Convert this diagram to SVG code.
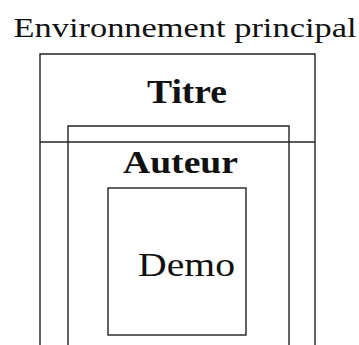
<svg xmlns="http://www.w3.org/2000/svg" width="359" height="345" viewBox="0 0 359 345">
<style>
.ln{fill:none;stroke:#222;stroke-width:1.4}
.t{font-family:"Liberation Serif","Times New Roman",serif;fill:#111}
.b{font-weight:bold}
</style>
<rect width="359" height="345" fill="#fff"/>
<g id="principal">
<text class="t" x="185" y="37" font-size="28" text-anchor="middle" textLength="343" lengthAdjust="spacingAndGlyphs">Environnement principal</text>
<path class="ln" d="M40,346 V54 H315 V346"/>
</g>
<g id="titre">
<text class="t b" x="187" y="103" font-size="33" text-anchor="middle" textLength="80" lengthAdjust="spacingAndGlyphs">Titre</text>
<path class="ln" d="M40,142 H315"/>
</g>
<g id="auteur">
<path class="ln" d="M68,346 V126 H289 V346"/>
<text class="t b" x="180.5" y="173" font-size="31" text-anchor="middle" textLength="115" lengthAdjust="spacingAndGlyphs">Auteur</text>
</g>
<g id="demo">
<rect class="ln" x="108" y="188" width="138" height="147"/>
<text class="t" x="186.5" y="276" font-size="33" text-anchor="middle" textLength="97" lengthAdjust="spacingAndGlyphs">Demo</text>
</g>
</svg>
